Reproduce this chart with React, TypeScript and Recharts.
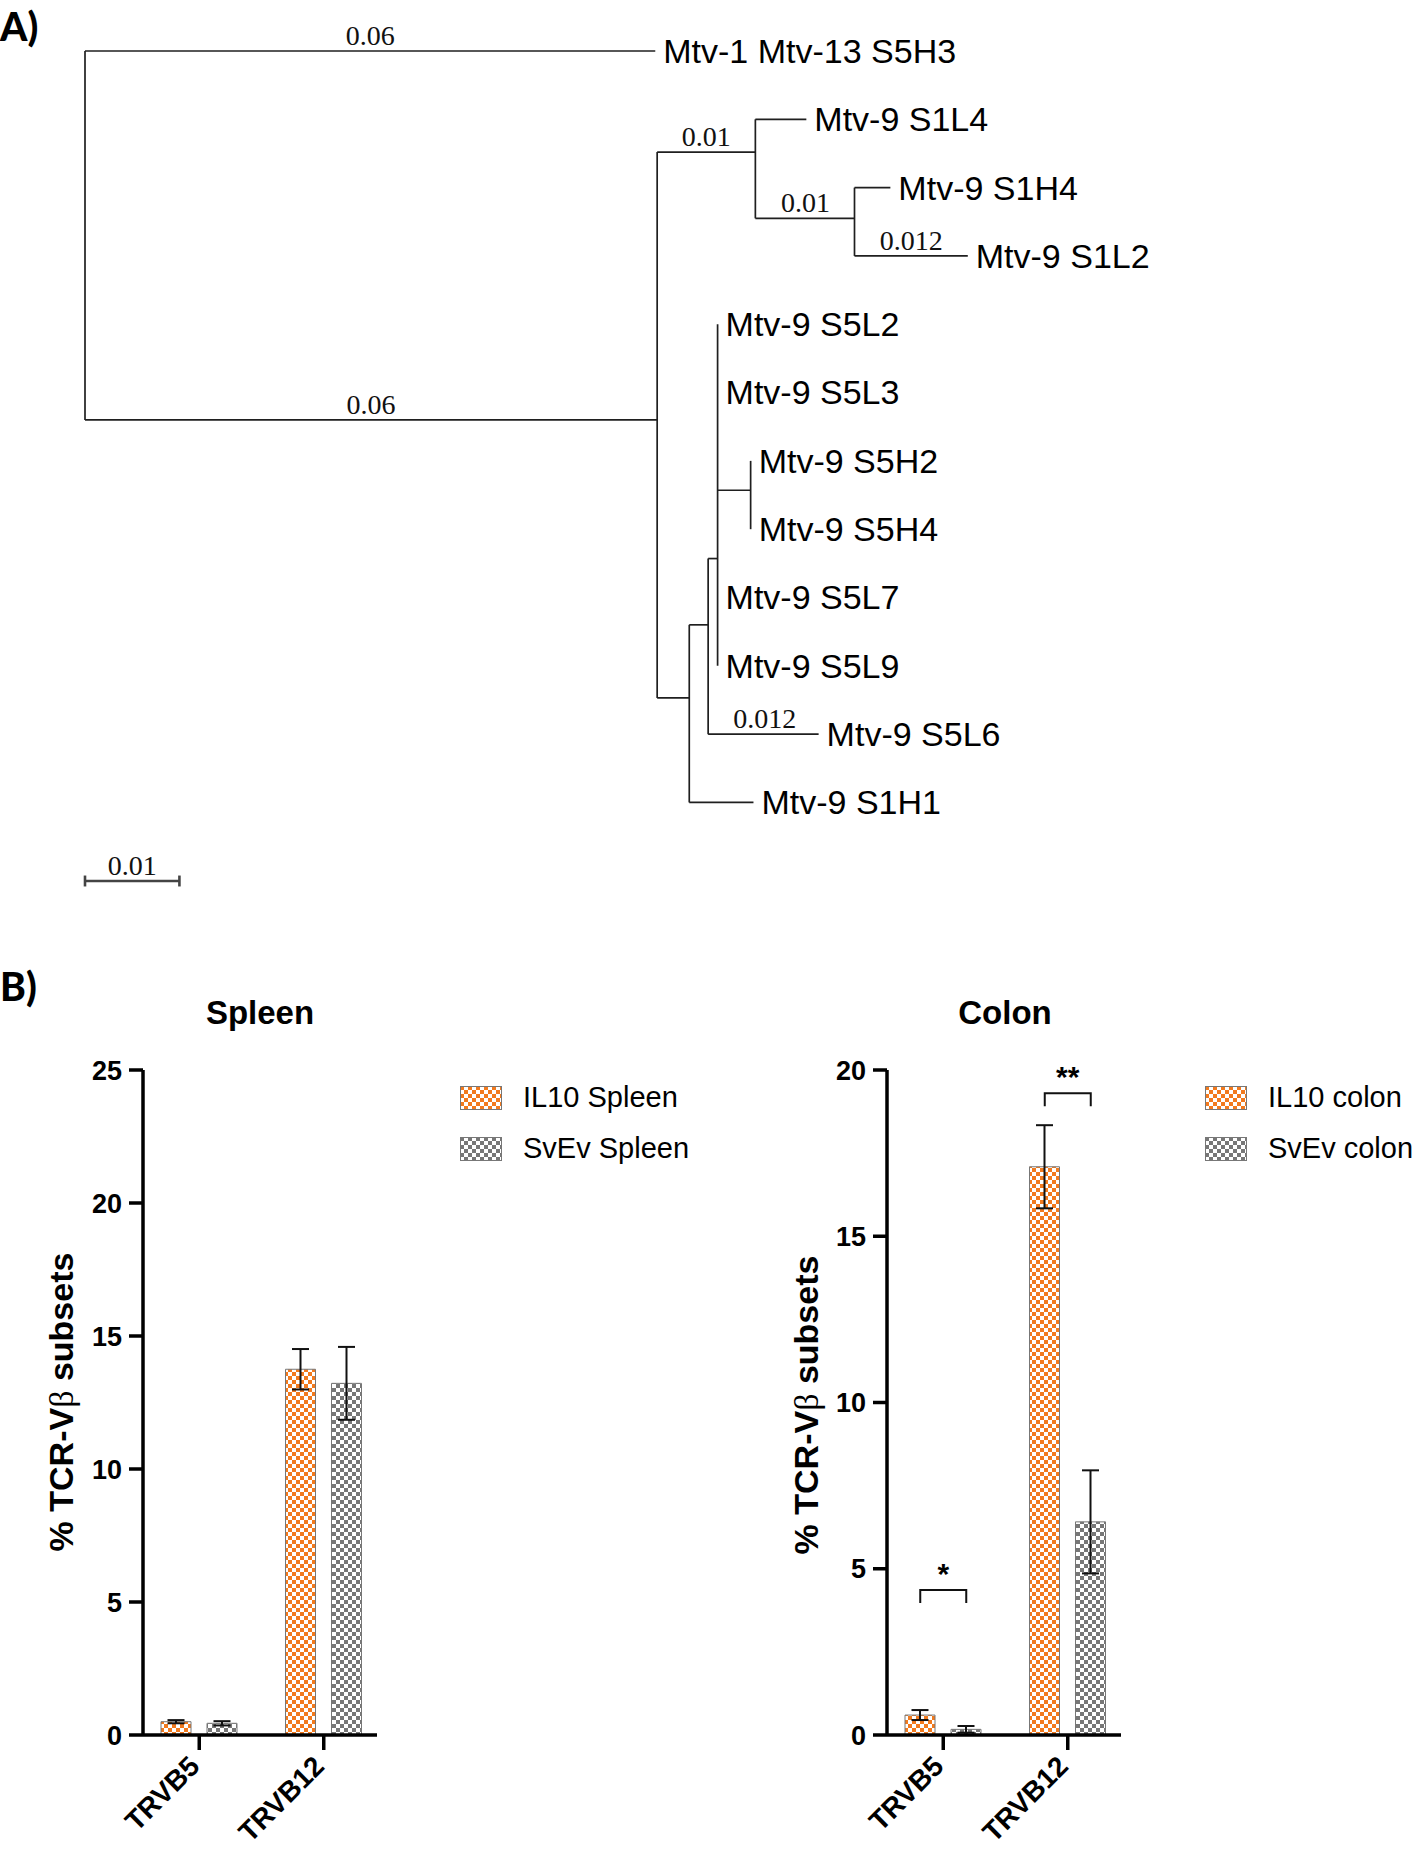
import React from 'react';
import {
  ScatterChart,
  Scatter,
  XAxis,
  YAxis,
  ReferenceLine,
  ComposedChart,
  Bar,
  ErrorBar,
} from 'recharts';

// ---------- Panel A: neighbour-joining tree ----------
const leafNames = [
  'Mtv-1 Mtv-13 S5H3',
  'Mtv-9 S1L4',
  'Mtv-9 S1H4',
  'Mtv-9 S1L2',
  'Mtv-9 S5L2',
  'Mtv-9 S5L3',
  'Mtv-9 S5H2',
  'Mtv-9 S5H4',
  'Mtv-9 S5L7',
  'Mtv-9 S5L9',
  'Mtv-9 S5L6',
  'Mtv-9 S1H1',
];
const leafDepth = [0.0604, 0.0764, 0.0853, 0.0935, 0.067, 0.067, 0.0705, 0.0705, 0.067, 0.067, 0.0777, 0.0708];
const leafParent = ['root', 'B', 'C', 'C', 'P', 'P', 'H', 'H', 'P', 'P', 'D', 'E'];

const nodeIds = ['root', 'A', 'B', 'C', 'E', 'D', 'P', 'H'];
const nodeDepth = [0, 0.0606, 0.071, 0.0815, 0.064, 0.066, 0.067, 0.0705];
const nodeRow = [2.69, 5.4, 1.48, 2.45, 9.47, 8.4, 7.43, 6.43];
const nodeParent = ['', 'root', 'A', 'B', 'A', 'E', 'D', 'P'];

const branchLabels = ['0.06', '0.06', '0.01', '0.01', '0.012', '0.012'];
const branchLabelDepth = [0.0302, 0.0303, 0.0658, 0.0763, 0.0875, 0.072];
const branchLabelRow = [0, 5.4, 1.48, 2.45, 3, 10];

const scaleBarValue = 0.01;
const scaleBarRow = 12.15;

// ---------- Panel B: TCR-Vb subsets ----------
const categories = ['TRVB5', 'TRVB12'];
const spleenIL10 = [0.5, 13.75];
const spleenIL10Err = [0.06, 0.76];
const spleenSvEv = [0.44, 13.22];
const spleenSvEvErr = [0.08, 1.37];
const colonIL10 = [0.6, 17.09];
const colonIL10Err = [0.15, 1.25];
const colonSvEv = [0.17, 6.41];
const colonSvEvErr = [0.1, 1.55];
const colonSigLevel = [4.36, 19.3];
const colonSigText = ['*', '**'];
const spleenTicks = [0, 5, 10, 15, 20, 25];
const colonTicks = [0, 5, 10, 15, 20];

const SANS = '"Liberation Sans", Arial, Helvetica, sans-serif';
const SERIF = '"Liberation Serif", "Times New Roman", serif';
const LINE = '#1f1f1f';

// tree geometry from the arrays above
const depthOf = (id: string) => nodeDepth[nodeIds.indexOf(id)];
const segments: { x: number; y: number }[][] = [];
leafNames.forEach((_, i) => {
  const px = depthOf(leafParent[i]);
  if (leafDepth[i] - px > 1e-6) segments.push([{ x: px, y: i }, { x: leafDepth[i], y: i }]);
});
nodeIds.forEach((id, i) => {
  const p = nodeParent[i];
  if (p) segments.push([{ x: depthOf(p), y: nodeRow[i] }, { x: nodeDepth[i], y: nodeRow[i] }]);
  const rows = [
    ...leafParent.map((lp, j) => (lp === id ? j : null)),
    ...nodeParent.map((np, j) => (np === id ? nodeRow[j] : null)),
  ].filter((r) => r !== null) as number[];
  if (rows.length) {
    segments.push([
      { x: nodeDepth[i], y: Math.min(...rows) },
      { x: nodeDepth[i], y: Math.max(...rows) },
    ]);
  }
});

const scaleSegments = [
  [{ x: 0, y: scaleBarRow }, { x: scaleBarValue, y: scaleBarRow }],
  [{ x: 0, y: scaleBarRow - 0.08 }, { x: 0, y: scaleBarRow + 0.08 }],
  [{ x: scaleBarValue, y: scaleBarRow - 0.08 }, { x: scaleBarValue, y: scaleBarRow + 0.08 }],
];

const leafData = leafNames.map((name, i) => ({ x: leafDepth[i], y: i, name }));
const branchData = branchLabels
  .map((name, i) => ({ x: branchLabelDepth[i], y: branchLabelRow[i], name }))
  .concat([{ x: scaleBarValue / 2, y: scaleBarRow, name: String(scaleBarValue) }]);

const LeafLabel = (props: any) => (
  <text x={props.cx + 8} y={props.cy} dy="0.35em" fontFamily={SANS} fontSize={34} fill="#000">
    {props.payload.name}
  </text>
);

const BranchLabel = (props: any) => (
  <text x={props.cx} y={props.cy - 6} textAnchor="middle" fontFamily={SERIF} fontSize={28} fill="#111">
    {props.payload.name}
  </text>
);

function Tree() {
  return (
    <ScatterChart width={1416} height={960} margin={{ top: 51, right: 198, bottom: 79, left: 85 }}>
      <XAxis type="number" dataKey="x" domain={[0, 0.12]} hide />
      <YAxis type="number" dataKey="y" domain={[0, 12]} reversed hide />
      {segments.map((s, i) => (
        <ReferenceLine key={i} segment={s} stroke={LINE} strokeWidth={1.7} ifOverflow="visible" />
      ))}
      {scaleSegments.map((s, i) => (
        <ReferenceLine key={'sb' + i} segment={s} stroke="#444" strokeWidth={2.6} ifOverflow="visible" />
      ))}
      <Scatter data={leafData} shape={LeafLabel} isAnimationActive={false} />
      <Scatter data={branchData} shape={BranchLabel} isAnimationActive={false} />
    </ScatterChart>
  );
}

const XTick = (props: any) => (
  <text
    transform={`translate(${props.x + 2},${props.y + 16}) rotate(-45)`}
    textAnchor="end"
    fontFamily={SANS}
    fontSize={28}
    fontWeight={700}
    fill="#000"
  >
    {props.payload.value}
  </text>
);

const SigMark = (props: any) => {
  const { cx, cy, payload } = props;
  if (cx == null || cy == null) return null;
  return (
    <g>
      <path
        d={`M${cx - 23},${cy + 13} V${cy} H${cx + 23} V${cy + 13}`}
        fill="none"
        stroke="#111"
        strokeWidth={2}
      />
      <text x={cx} y={cy - 6} textAnchor="middle" fontFamily={SANS} fontWeight={700} fontSize={30} fill="#000">
        {payload.sigText}
      </text>
    </g>
  );
};

const axisStroke = { stroke: '#000', strokeWidth: 3.5 };

function TcrChart({ data, ticks, max, sig }: { data: any[]; ticks: number[]; max: number; sig?: boolean }) {
  return (
    <ComposedChart
      width={420}
      height={810}
      data={data}
      margin={{ top: 30, right: 43, bottom: 25, left: 0 }}
      barGap={16}
      barSize={30}
    >
      <XAxis
        dataKey="cat"
        height={90}
        padding={{ left: -6, right: -9 }}
        interval={0}
        tick={<XTick />}
        tickSize={15}
        tickMargin={2}
        axisLine={axisStroke}
        tickLine={axisStroke}
      />
      <YAxis
        width={143}
        domain={[0, max]}
        ticks={ticks}
        interval={0}
        tickSize={14}
        tickMargin={7}
        axisLine={axisStroke}
        tickLine={axisStroke}
        tick={{ fontSize: 27, fontWeight: 700, fill: '#000', fontFamily: SANS }}
      />
      <Bar dataKey="il10" fill="url(#chkOrange)" stroke="#777" strokeWidth={1} isAnimationActive={false}>
        <ErrorBar dataKey="il10Err" width={8.5} stroke="#111" strokeWidth={2} direction="y" />
      </Bar>
      <Bar dataKey="svev" fill="url(#chkGray)" stroke="#777" strokeWidth={1} isAnimationActive={false}>
        <ErrorBar dataKey="svevErr" width={8.5} stroke="#111" strokeWidth={2} direction="y" />
      </Bar>
      {sig && <Scatter dataKey="sig" shape={SigMark} isAnimationActive={false} />}
    </ComposedChart>
  );
}

const spleenData = categories.map((cat, i) => ({
  cat,
  il10: spleenIL10[i],
  il10Err: spleenIL10Err[i],
  svev: spleenSvEv[i],
  svevErr: spleenSvEvErr[i],
}));

const colonData = categories.map((cat, i) => ({
  cat,
  il10: colonIL10[i],
  il10Err: colonIL10Err[i],
  svev: colonSvEv[i],
  svevErr: colonSvEvErr[i],
  sig: colonSigLevel[i],
  sigText: colonSigText[i],
}));

function LegendBox({ left, top, items }: { left: number; top: number; items: { label: string; fill: string }[] }) {
  return (
    <div style={{ position: 'absolute', left, top }}>
      {items.map((it) => (
        <div key={it.label} style={{ display: 'flex', alignItems: 'center', height: 51 }}>
          <svg width={42} height={24} style={{ marginRight: 21 }}>
            <rect x={0.5} y={0.5} width={41} height={23} fill={it.fill} stroke="#777" strokeWidth={1} />
          </svg>
          <span style={{ fontFamily: SANS, fontSize: 29, color: '#000', whiteSpace: 'nowrap' }}>{it.label}</span>
        </div>
      ))}
    </div>
  );
}

const YTitle = ({ x, y }: { x: number; y: number }) => (
  <text
    transform={`translate(${x},${y}) rotate(-90)`}
    textAnchor="middle"
    dy="0.35em"
    fontFamily={SANS}
    fontWeight={700}
    fontSize={34}
    fill="#000"
  >
    % TCR-V<tspan fontFamily={SERIF} fontWeight={400}>β</tspan> subsets
  </text>
);

export default function App() {
  return (
    <div style={{ position: 'absolute', left: 0, top: 0, width: 1416, height: 1850, background: '#fff', overflow: 'hidden' }}>
      <svg width={0} height={0} style={{ position: 'absolute' }}>
        <defs>
          <pattern id="chkOrange" width={8} height={8} patternUnits="userSpaceOnUse">
            <rect width={8} height={8} fill="#fff" />
            <rect width={4} height={4} fill="#F27A1E" />
            <rect x={4} y={4} width={4} height={4} fill="#F27A1E" />
          </pattern>
          <pattern id="chkGray" width={8} height={8} patternUnits="userSpaceOnUse">
            <rect width={8} height={8} fill="#fff" />
            <rect width={4} height={4} fill="#777" />
            <rect x={4} y={4} width={4} height={4} fill="#777" />
          </pattern>
        </defs>
      </svg>

      <div style={{ position: 'absolute', left: 0, top: 0 }}>
        <Tree />
      </div>
      <div style={{ position: 'absolute', left: 0, top: 1040 }}>
        <TcrChart data={spleenData} ticks={spleenTicks} max={25} />
      </div>
      <div style={{ position: 'absolute', left: 744, top: 1040 }}>
        <TcrChart data={colonData} ticks={colonTicks} max={20} sig />
      </div>

      <svg width={1416} height={1850} style={{ position: 'absolute', left: 0, top: 0, pointerEvents: 'none' }}>
        <text x={0} y={41} fontFamily="Lato, sans-serif" fontWeight={900} fontSize={39} fill="#000">A)</text>
        <text x={0} y={1001} fontFamily="Lato, sans-serif" fontWeight={900} fontSize={39} fill="#000">B)</text>
        <text x={260} y={1024} textAnchor="middle" fontFamily={SANS} fontWeight={700} fontSize={33} fill="#000">Spleen</text>
        <text x={1005} y={1024} textAnchor="middle" fontFamily={SANS} fontWeight={700} fontSize={33} fill="#000">Colon</text>
        <YTitle x={61} y={1402} />
        <YTitle x={806} y={1405} />
      </svg>

      <LegendBox
        left={460}
        top={1072}
        items={[
          { label: 'IL10 Spleen', fill: 'url(#chkOrange)' },
          { label: 'SvEv Spleen', fill: 'url(#chkGray)' },
        ]}
      />
      <LegendBox
        left={1205}
        top={1072}
        items={[
          { label: 'IL10 colon', fill: 'url(#chkOrange)' },
          { label: 'SvEv colon', fill: 'url(#chkGray)' },
        ]}
      />
    </div>
  );
}
